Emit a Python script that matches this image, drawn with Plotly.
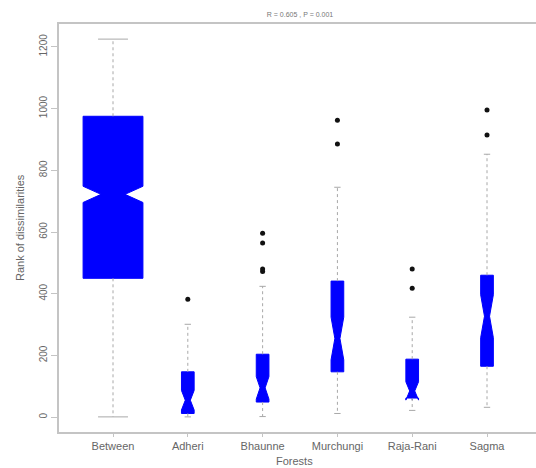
import plotly.graph_objects as go
import math

categories = ["Between", "Adheri", "Bhaunne", "Murchungi", "Raja-Rani", "Sagma"]
n_pairs = [1000, 45, 45, 45, 45, 45]
q1 = [450, 12, 49, 147, 62, 165]
median = [722, 55, 95, 255, 85, 327]
q3 = [975, 147, 204, 441, 188, 460]
lower_whisker = [1, 1, 2, 12, 22, 32]
upper_whisker = [1225, 301, 424, 745, 324, 852]
outliers = [[], [382], [472, 480, 564, 596], [885, 962], [418, 480], [914, 995]]
y_ticks = [0, 200, 400, 600, 800, 1000, 1200]
title_text = "R = 0.605 , P = 0.001"

positions = list(range(1, len(categories) + 1))
max_sqrt = max(math.sqrt(n) for n in n_pairs)
widths = [0.8 * math.sqrt(n) / max_sqrt for n in n_pairs]
notch = [1.58 * (b - a) / math.sqrt(n) for a, b, n in zip(q1, q3, n_pairs)]

fig = go.Figure()

# whiskers (dashed) and staples
wx, wy, cx, cy = [], [], [], []
for p, a, b, lo, hi, w in zip(positions, q1, q3, lower_whisker, upper_whisker, widths):
    wx += [p, p, None, p, p, None]
    wy += [b, hi, None, a, lo, None]
    hw = w * 0.25
    cx += [p - hw, p + hw, None, p - hw, p + hw, None]
    cy += [hi, hi, None, lo, lo, None]
fig.add_trace(go.Scatter(x=wx, y=wy, mode="lines",
                         line=dict(color="#a8a8a8", width=1, dash="dot"),
                         hoverinfo="skip", showlegend=False))
fig.add_trace(go.Scatter(x=cx, y=cy, mode="lines",
                         line=dict(color="#a8a8a8", width=1),
                         hoverinfo="skip", showlegend=False))

for p, a, m, b, w, ns in zip(positions, q1, median, q3, widths, notch):
    fig.add_trace(go.Box(
        x=[p], q1=[a], median=[m], q3=[b], lowerfence=[a], upperfence=[b],
        notched=True, notchspan=[ns], notchwidth=0.3, width=w,
        fillcolor="#0000ff", line=dict(color="#0000ff", width=1),
        whiskerwidth=0, boxpoints=False, showlegend=False))

ox, oy = [], []
for p, vals in zip(positions, outliers):
    for v in vals:
        ox.append(p)
        oy.append(v)
fig.add_trace(go.Scatter(x=ox, y=oy, mode="markers",
                         marker=dict(color="#111111", size=5),
                         showlegend=False))

axis_col = "#c4c4c4"
txt_col = "#666666"
fig.update_layout(
    width=536, height=468,
    margin=dict(l=59, r=0, t=24, b=36),
    paper_bgcolor="white", plot_bgcolor="white",
    font=dict(family="Liberation Sans, Arial, sans-serif", color=txt_col, size=11),
    boxmode="overlay",
    title=dict(text=title_text, x=300 / 536, xref="container", xanchor="center",
               y=1 - 15 / 468, yanchor="middle", font=dict(size=7, color="#777777")),
    xaxis=dict(range=[0.278, 6.655], tickvals=positions, ticktext=categories,
               showline=True, linecolor=axis_col, linewidth=2, mirror=True,
               ticks="outside", ticklen=3, tickcolor=axis_col,
               showgrid=False, zeroline=False, tickfont=dict(size=11, color=txt_col)),
    yaxis=dict(range=[-48, 1274], tickvals=y_ticks, tickangle=-90,
               showline=True, linecolor=axis_col, linewidth=2, mirror=False,
               ticks="outside", ticklen=6, tickcolor=axis_col,
               showgrid=False, zeroline=False, tickfont=dict(size=10, color=txt_col)),
    annotations=[
        dict(text="Rank of dissimilarities", xref="paper", yref="paper",
             x=(20 - 59) / 477, y=0.5, textangle=-90, showarrow=False,
             xanchor="center", yanchor="middle", font=dict(size=11, color=txt_col)),
        dict(text="Forests", xref="paper", yref="paper",
             x=(294 - 59) / 477, y=(432 - 461) / 408, showarrow=False,
             xanchor="center", yanchor="middle", font=dict(size=11, color=txt_col)),
    ],
)

fig.write_html("out.html", config={"displayModeBar": False},
               post_script="document.body.style.margin='0';")
